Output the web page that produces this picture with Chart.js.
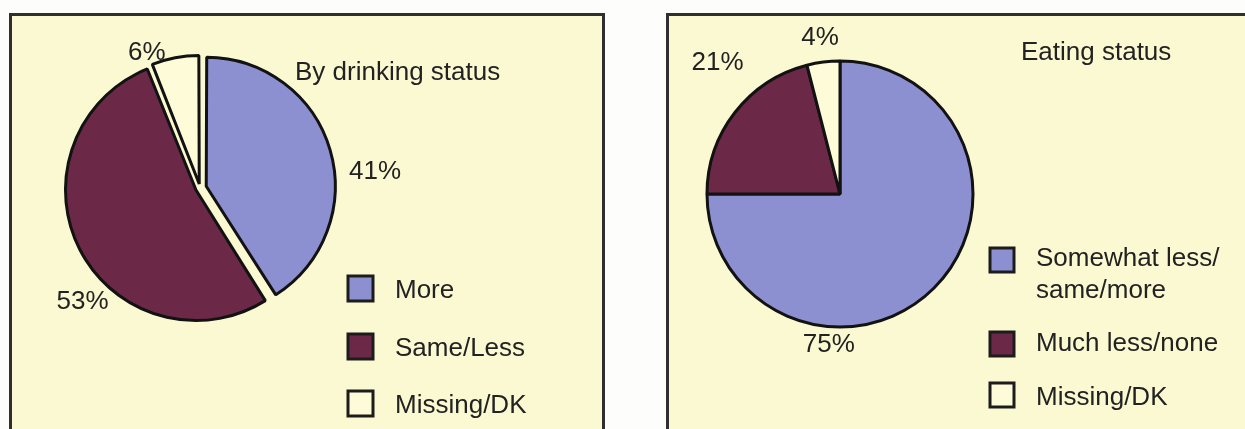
<!DOCTYPE html>
<html>
<head>
<meta charset="utf-8">
<title>Drinking and eating status</title>
<script src="https://cdn.jsdelivr.net/npm/chart.js@4.4.1/dist/chart.umd.min.js"></script>
<style>
  html, body { margin: 0; padding: 0; background: #fdfdfb; overflow: hidden; }
  body { width: 1245px; height: 429px; position: relative; }
  .panel { position: absolute; background: #fbf9d1; border: 3px solid #2f2f2f; box-sizing: border-box; }
  #panelLeft { left: 9px; top: 13px; width: 596px; height: 440px; }
  #panelRight { left: 666px; top: 13px; width: 600px; height: 440px; }
  canvas { position: absolute; top: 0; }
  #drinking { left: 0; }
  #eating { left: 622px; }
</style>
</head>
<body>
<div class="panel" id="panelLeft"></div>
<div class="panel" id="panelRight"></div>
<canvas id="drinking" width="622" height="429"></canvas>
<canvas id="eating" width="623" height="429"></canvas>
<script>
// shares in percent
const drinkingLabels = ['More', 'Same/Less', 'Missing/DK'];
const drinkingShares = [41, 53, 6];
const eatingLabels = [['Somewhat less/', 'same/more'], 'Much less/none', 'Missing/DK'];
const eatingShares = [75, 21, 4];

const sliceColors = ['#8c90d1', '#6b2847', '#fdfbd8'];
const INK = '#222';
const FONT = '26px "Liberation Sans", Arial, sans-serif';

// title, % labels and legend drawn on top of the pie
function decorations(cfg) {
  return {
    id: 'decor',
    afterDatasetsDraw(chart) {
      const ctx = chart.ctx;
      const ds = chart.data.datasets[0];
      const arcs = chart.getDatasetMeta(0).data;
      ctx.save();
      ctx.fillStyle = INK;
      ctx.font = FONT;

      // percentages, placed by angle (deg from 12 o'clock) and distance from centre
      ctx.textAlign = 'center';
      arcs.forEach((arc, i) => {
        const [deg, dist] = cfg.spots[i];
        const a = deg * Math.PI / 180;
        ctx.fillText(ds.data[i] + '%', arc.x + Math.sin(a) * dist, arc.y - Math.cos(a) * dist + 9);
      });

      ctx.textAlign = 'left';
      ctx.fillText(cfg.title, cfg.titleX, cfg.titleY);

      // legend
      const lg = cfg.legend;
      chart.data.labels.forEach((label, i) => {
        const top = lg.tops[i];
        ctx.fillStyle = ds.backgroundColor[i];
        ctx.fillRect(lg.x, top, lg.size, lg.size);
        ctx.lineWidth = 3;
        ctx.strokeStyle = '#1c1c1c';
        ctx.strokeRect(lg.x, top, lg.size, lg.size);
        ctx.fillStyle = INK;
        const lines = Array.isArray(label) ? label : [label];
        lines.forEach((line, j) => ctx.fillText(line, lg.textX, lg.baselines[i] + j * 32));
      });
      ctx.restore();
    }
  };
}

function makePie(id, labels, shares, offsets, radius, padding, decor) {
  return new Chart(document.getElementById(id), {
    type: 'pie',
    data: {
      labels: labels,
      datasets: [{
        data: shares,
        backgroundColor: sliceColors,
        borderColor: '#121212',
        borderWidth: 3,
        offset: offsets,
        hoverOffset: 0
      }]
    },
    options: {
      responsive: false,
      animation: false,
      devicePixelRatio: 1,
      radius: radius,
      layout: { padding: padding },
      plugins: {
        legend: { display: false },
        tooltip: { enabled: false }
      },
      events: []
    },
    plugins: [decorations(decor)]
  });
}

makePie('drinking', drinkingLabels, drinkingShares, [26, 18, 16], 126,
  { left: 50, top: 38, right: 272, bottom: 91 },
  {
    title: 'By drinking status', titleX: 295, titleY: 80,
    spots: [[84, 176], [226.5, 162], [338.8, 147]],
    legend: { x: 348, size: 25, textX: 395, tops: [276, 334, 391], baselines: [298, 356, 413] }
  });

makePie('eating', eatingLabels, eatingShares, 0, 133,
  { left: 68, top: 44, right: 255, bottom: 85 },
  {
    title: 'Eating status', titleX: 399, titleY: 60,
    spots: [[184.3, 149], [317.4, 181], [352.8, 159]],
    legend: { x: 368, size: 24, textX: 414, tops: [248, 332, 383], baselines: [266, 351, 405] }
  });
</script>
</body>
</html>
